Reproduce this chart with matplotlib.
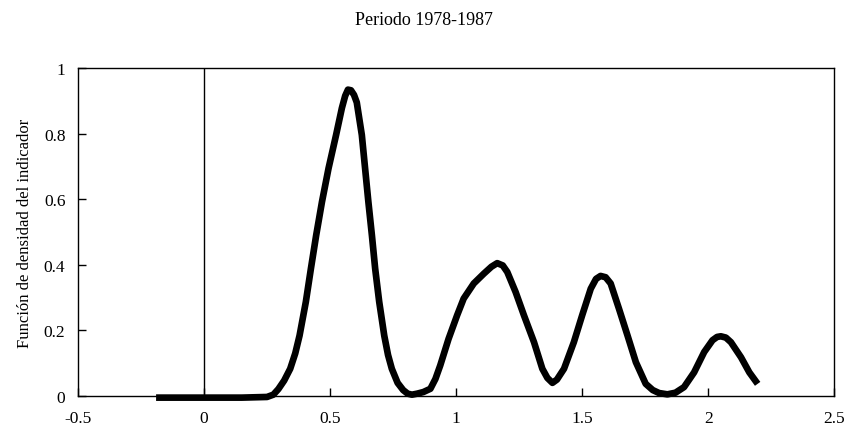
import matplotlib
matplotlib.use('Agg')
import matplotlib.pyplot as plt

plt.rcParams['font.family'] = ['Liberation Serif', 'DejaVu Serif']

# density curve
x_vals = [-0.19, 0.0, 0.15, 0.25, 0.275, 0.295, 0.318, 0.342, 0.362, 0.379,
          0.404, 0.424, 0.445, 0.468, 0.494, 0.524, 0.547, 0.560, 0.571, 0.583,
          0.595, 0.606, 0.626, 0.639, 0.652, 0.666, 0.679, 0.695, 0.715, 0.730,
          0.745, 0.768, 0.79, 0.808, 0.825, 0.845, 0.87, 0.898, 0.918, 0.937,
          0.970, 1.004, 1.030, 1.070, 1.110, 1.140, 1.163, 1.185, 1.203, 1.236,
          1.269, 1.309, 1.342, 1.362, 1.382, 1.400, 1.428, 1.467, 1.500, 1.534,
          1.555, 1.573, 1.593, 1.613, 1.646, 1.680, 1.713, 1.752, 1.780, 1.805,
          1.838, 1.870, 1.904, 1.944, 1.984, 2.017, 2.035, 2.050, 2.070, 2.090,
          2.130, 2.163, 2.196]
y_vals = [-0.005, -0.005, -0.005, -0.003, 0.004, 0.021, 0.047, 0.083, 0.13, 0.184,
          0.287, 0.388, 0.49, 0.592, 0.694, 0.796, 0.878, 0.915, 0.934, 0.932,
          0.918, 0.895, 0.796, 0.694, 0.592, 0.49, 0.388, 0.287, 0.184, 0.125,
          0.083, 0.04, 0.018, 0.007, 0.004, 0.007, 0.012, 0.022, 0.052, 0.093,
          0.174, 0.246, 0.297, 0.343, 0.373, 0.394, 0.405, 0.398, 0.378, 0.317,
          0.246, 0.164, 0.083, 0.055, 0.040, 0.050, 0.083, 0.164, 0.246, 0.327,
          0.357, 0.366, 0.362, 0.343, 0.266, 0.184, 0.103, 0.037, 0.018, 0.009,
          0.005, 0.010, 0.027, 0.072, 0.134, 0.170, 0.180, 0.182, 0.178, 0.164,
          0.118, 0.072, 0.037]

x_ticks = [-0.5, 0, 0.5, 1, 1.5, 2, 2.5]
x_tick_labels = ['-0.5', '0', '0.5', '1', '1.5', '2', '2.5']
y_ticks = [0, 0.2, 0.4, 0.6, 0.8, 1]
y_tick_labels = ['0', '0.2', '0.4', '0.6', '0.8', '1']

fig = plt.figure(figsize=(8.47, 4.35), dpi=100)
ax = fig.add_axes([0.092, 0.0874, 0.893, 0.754])

ax.axvline(0, color='black', linewidth=1.0, zorder=2)
ax.plot(x_vals, y_vals, color='black', linewidth=4.8,
        solid_joinstyle='round', solid_capstyle='butt', zorder=3,
        clip_on=False)

ax.set_xlim(-0.5, 2.5)
ax.set_ylim(0, 1)
ax.set_xticks(x_ticks)
ax.set_xticklabels(x_tick_labels)
ax.set_yticks(y_ticks)
ax.set_yticklabels(y_tick_labels)
ax.tick_params(direction='in', length=6, width=1, labelsize=12.5,
               top=False, right=False)
ax.tick_params(axis='x', pad=10)
ax.tick_params(axis='y', pad=9)
for s in ax.spines.values():
    s.set_linewidth(1.0)

ax.set_ylabel('Función de densidad del indicador', fontsize=12, labelpad=8)
fig.text(0.5, 0.953, 'Periodo 1978-1987', ha='center', va='center', fontsize=13)

fig.savefig('out.png', dpi=100)
